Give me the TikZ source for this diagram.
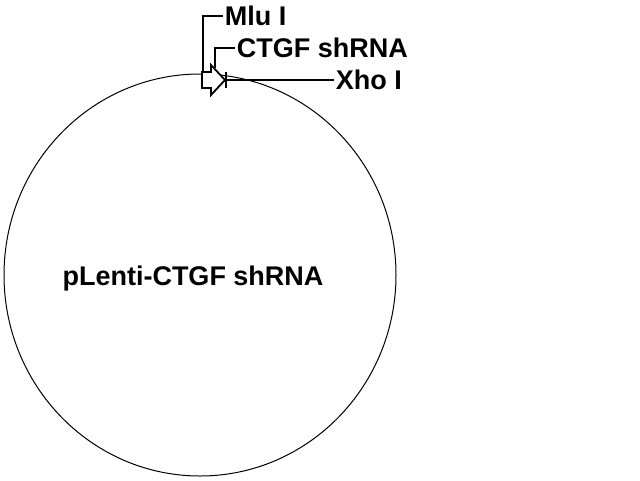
\documentclass[tikz,border=0pt]{standalone}
\usepackage{fontspec}
\setmainfont{Liberation Sans}
\usetikzlibrary{shapes.geometric}
\begin{document}
\begin{tikzpicture}[x=1pt,y=-1pt,line width=1.8pt,
    site label/.style={font=\bfseries\fontsize{27}{30}\selectfont,anchor=west,inner sep=1pt}]
    \useasboundingbox (0,0) rectangle (640,480);
    \node[ellipse,draw,line width=1pt,minimum width=392pt,minimum height=402pt,inner sep=0pt] (plasmid) at (200,275) {};
    \node[font=\bfseries\fontsize{27}{30}\selectfont] (name) at (193,279) {pLenti-CTGF shRNA};
    % insert arrow
    \draw[fill=white] (202,72) -- (211,72) -- (211,65) -- (225,80) -- (211,95) -- (211,88) -- (202,88) -- cycle;
    \draw (226,72) -- (226,88);
    \node[site label] (mlu) at (223,16) {Mlu I};
    \node[site label] (ctgf) at (235,48) {CTGF shRNA};
    \node[site label] (xho) at (334,80) {Xho I};
    \coordinate (mluend) at (203,72);
    \coordinate (ctgfend) at (215,68);
    \coordinate (xhoend) at (226,80);
    \draw (mluend) |- (mlu.west);
    \draw (ctgfend) |- (ctgf.west);
    \draw (xhoend) -- (xho.west);
\end{tikzpicture}
\end{document}
